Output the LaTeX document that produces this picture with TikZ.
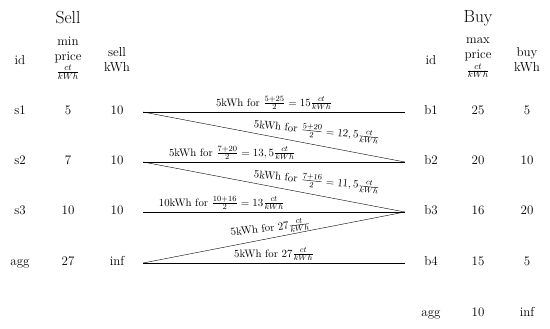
\documentclass[tikz,border=0pt]{standalone}
\usepackage{amsmath,amssymb}
\usetikzlibrary{arrows.meta}

\tikzset{
  cell/.style={minimum width=52pt, inner sep=0pt, text height=1.5ex, text depth=.25ex,
               font=\fontsize{13}{15}\selectfont},
  head/.style={align=center, inner sep=0pt, font=\fontsize{13}{15}\selectfont},
  side/.style={inner sep=0pt, font=\fontsize{17.5}{20}\selectfont},
  deal/.style={font=\fontsize{10.8}{12}\selectfont, inner sep=2pt}
}

\begin{document}
\begin{tikzpicture}[x=1pt,y=-1pt]

        \useasboundingbox (0,0) rectangle (550,329);

        % Headers
        \node[side] (sell) at (68,18) {Sell};
        \node[side] (buy) at (478,18) {Buy};
        \node[head] (sid) at (20,60) {id};
        \node[head] (sprice) at (68,58) {min\\price\\$\frac{ct}{kWh}$};
        \node[head] (skwh) at (117,60) {sell\\kWh};
        \node[head] (bid) at (431,60) {id};
        \node[head] (bprice) at (478,58) {max\\price\\$\frac{ct}{kWh}$};
        \node[head] (bkwh) at (527,60) {buy\\kWh};

        % Sellers
        \foreach \n/\lbl/\price/\kwh/\y in {s1/s1/5/10/112, s2/s2/7/10/162, s3/s3/10/10/212, sagg/agg/27/inf/263}
        {
            \node[cell] (\n id) at (20,\y) {\lbl};
            \node[cell] (\n price) at (68,\y) {\price};
            \node[cell] (\n kwh) at (117,\y) {\kwh};
        }

        % Buyers
        \foreach \n/\lbl/\price/\kwh/\y in {b1/b1/25/5/112, b2/b2/20/10/162, b3/b3/16/20/212, b4/b4/15/5/263, bagg/agg/10/inf/314}
        {
            \node[cell] (\n id) at (431,\y) {\lbl};
            \node[cell] (\n price) at (478,\y) {\price};
            \node[cell] (\n kwh) at (527,\y) {\kwh};
        }

        % Matches
        \draw (s1kwh.east) -- node[deal,above=5pt,rotate=-6,pos=.66]
            {5kWh for $\frac{5+20}{2}=12,5\frac{ct}{kWh}$} (b2id.west);
        \draw (s2kwh.east) -- node[deal,above=5pt,rotate=-6,pos=.66]
            {5kWh for $\frac{7+16}{2}=11,5\frac{ct}{kWh}$} (b3id.west);
        \draw (saggkwh.east) -- node[deal,above=1pt,rotate=7,pos=.49]
            {5kWh for $27\frac{ct}{kWh}$} (b3id.west);
        \draw (s1kwh.east) -- node[deal,above]
            {5kWh for $\frac{5+25}{2}=15\frac{ct}{kWh}$} (b1id.west);
        \draw (s2kwh.east) -- node[deal,above,pos=.34]
            {5kWh for $\frac{7+20}{2}=13,5\frac{ct}{kWh}$} (b2id.west);
        \draw (s3kwh.east) -- node[deal,above,pos=.3]
            {10kWh for $\frac{10+16}{2}=13\frac{ct}{kWh}$} (b3id.west);
        \draw (saggkwh.east) -- node[deal,above]
            {5kWh for $27\frac{ct}{kWh}$} (b4id.west);

    \end{tikzpicture}
\end{document}
